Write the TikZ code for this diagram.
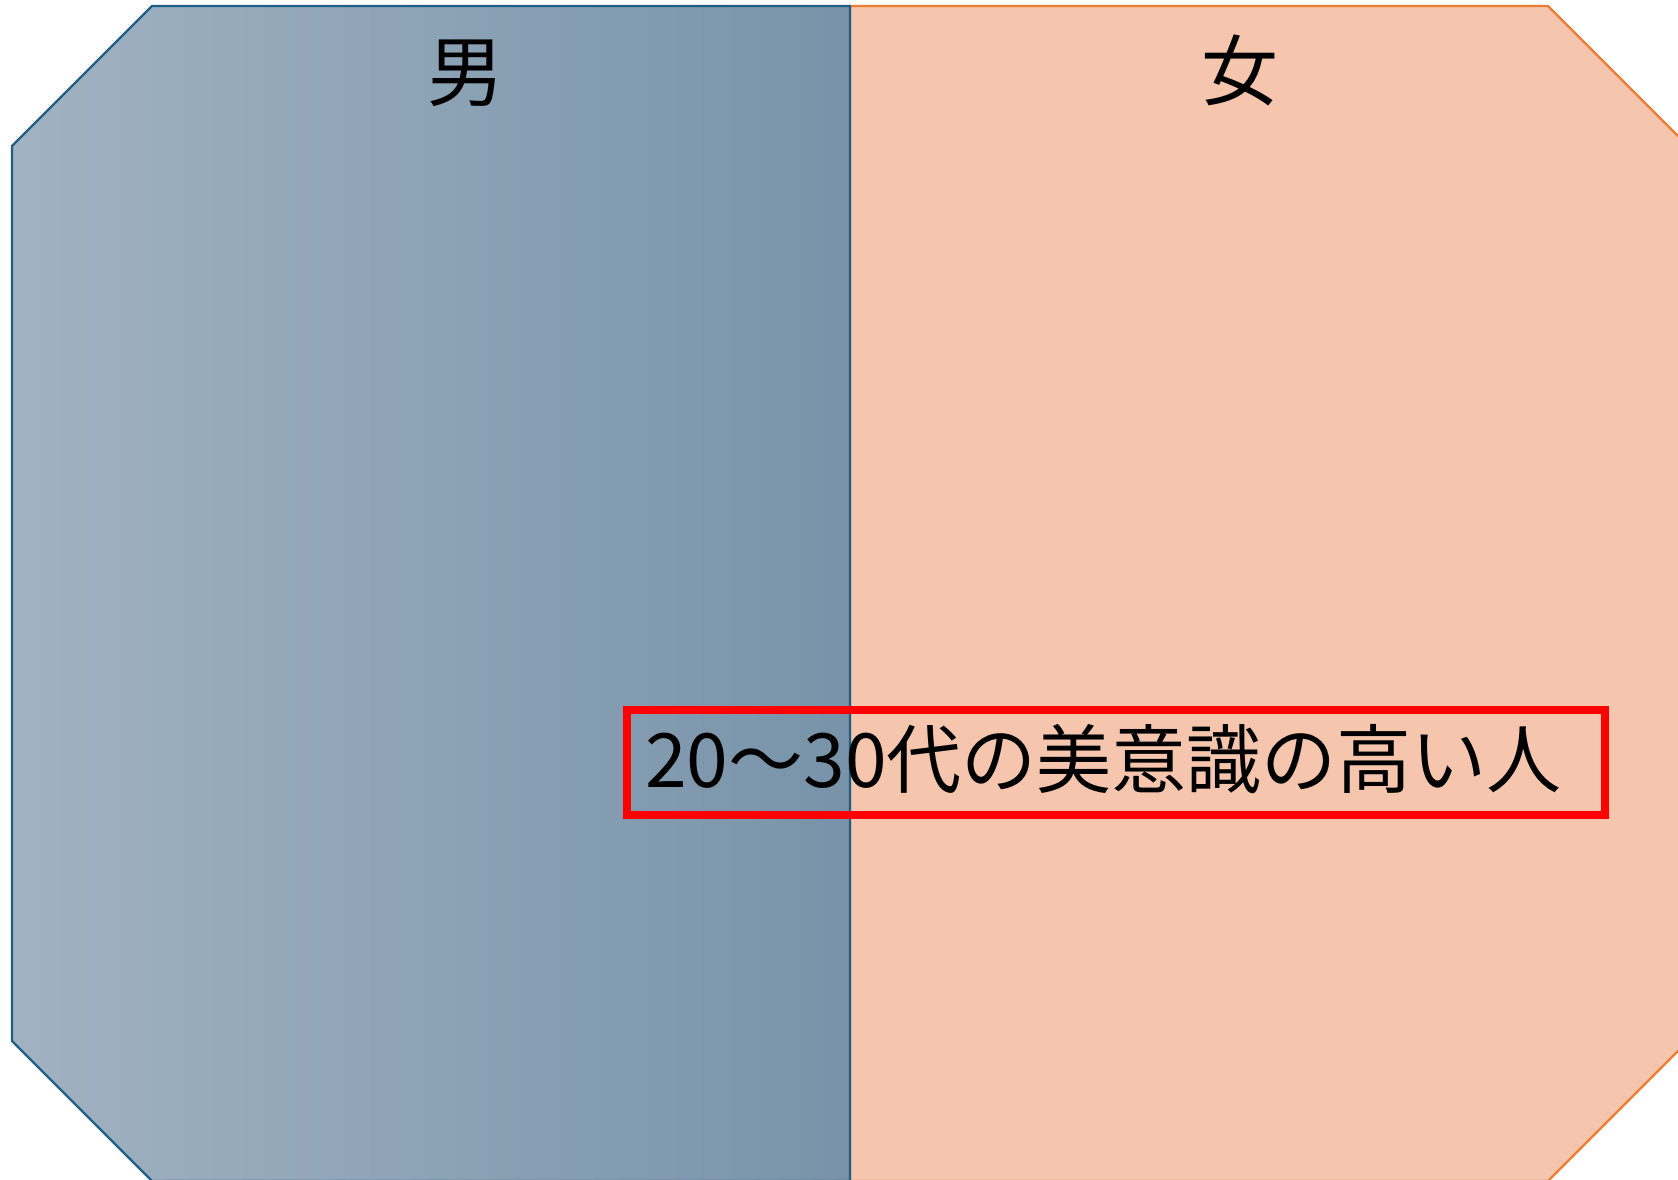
\documentclass[tikz,border=0pt]{standalone}
\usepackage{fontspec}
\newfontfamily\cjk{Noto Sans CJK JP}
\definecolor{bluestroke}{HTML}{1F5F86}
\definecolor{blueL}{HTML}{A1B2C2}
\definecolor{blueR}{HTML}{7893A9}
\definecolor{peach}{HTML}{F5C6AD}
\definecolor{orangestroke}{HTML}{ED7D31}
\definecolor{redbox}{HTML}{FF0000}
\tikzset{
  label/.style={font=\cjk\fontsize{77}{92}\selectfont, text=black, inner sep=0pt},
  boxlabel/.style={font=\cjk\fontsize{75}{90}\selectfont, text=black, inner sep=0pt},
}
\begin{document}
\begin{tikzpicture}[x=1pt,y=-1pt]
\useasboundingbox (0,0) rectangle (1678,1180);
\clip (0,0) rectangle (1678,1180);
% right (female) shape
\path[fill=peach, draw=orangestroke, line width=2.2pt]
  (850,6) -- (1548,6) -- (1720,178) -- (1720,1009) -- (1548,1181) -- (850,1181) -- cycle;
% left (male) shape
\path[left color=blueL, right color=blueR, draw=bluestroke, line width=2.2pt]
  (152,6) -- (850,6) -- (850,1181) -- (152,1181) -- (12,1041) -- (12,146) -- cycle;
\node[label] (m) at (466,73) {男};
\node[label] (f) at (1240,70) {女};
\node[draw=redbox, line width=7.5pt, minimum width=978pt, minimum height=105pt, inner sep=0pt] (box) at (1116,762.5) {};
\node[boxlabel, anchor=west] (t) at (645,759) {20～30代の美意識の高い人};
\end{tikzpicture}
\end{document}
